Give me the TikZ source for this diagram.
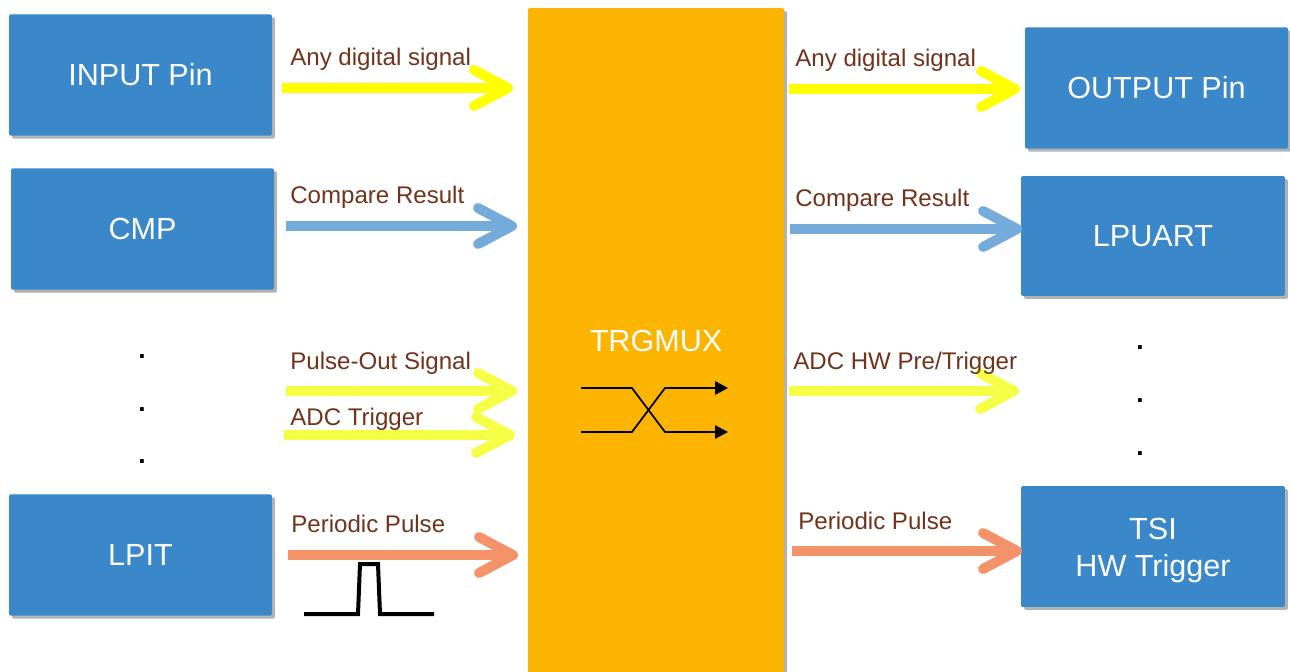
\documentclass[tikz,border=0pt]{standalone}
\usepackage{fontspec}
\setmainfont{Liberation Sans}
\usetikzlibrary{arrows.meta, shadows}

\definecolor{boxblue}{HTML}{3A87CA}
\definecolor{muxorange}{HTML}{FBB500}
\definecolor{sigyellow}{HTML}{FFFF00}
\definecolor{paleyellow}{HTML}{F5FF45}
\definecolor{sigblue}{HTML}{75ABDA}
\definecolor{sigorange}{HTML}{F4936A}
\definecolor{labelbrown}{HTML}{70331B}

\begin{document}
\begin{tikzpicture}[
            x=0.02cm, y=-0.02cm,
            softshadow/.style={
                drop shadow={shadow xshift=0.06cm, shadow yshift=-0.06cm, fill=black, opacity=0.3}
            },
            block/.style={
                draw=none, fill=boxblue, text=white, softshadow, rounded corners=0.03cm,
                minimum width=5.26cm, minimum height=2.43cm, inner sep=0pt, align=center,
                font=\fontsize{17.4}{21}\selectfont
            },
            muxblock/.style={
                draw=none, fill=muxorange, text=white, softshadow, rounded corners=0.03cm,
                minimum width=5.12cm, minimum height=13.32cm, inner sep=0pt,
                font=\fontsize{17.4}{21}\selectfont
            },
            siglabel/.style={
                anchor=base west, inner sep=0pt, text=labelbrown,
                font=\fontsize{13.7}{17}\selectfont
            },
            dotlabel/.style={
                anchor=center, inner sep=0pt, text=black,
                font=\fontsize{15}{17}\bfseries\selectfont
            },
            signal/.style={
                line width=0.2cm,
                -{Straight Barb[length=0.68cm, width=0.72cm, line width=0.2cm, round]}
            },
            muxline/.style={line width=0.035cm, -{Triangle[length=0.26cm, width=0.27cm]}}
        ]

            \useasboundingbox (0,0) rectangle (1290,672);

            % blocks
            \node[muxblock] (mux) at (656,341) {TRGMUX};
            \node[block] (input) at (140.5,75) {INPUT Pin};
            \node[block] (cmp) at (142.5,229) {CMP};
            \node[block] (lpit) at (140.5,555) {LPIT};
            \node[block] (output) at (1156.5,88) {OUTPUT Pin};
            \node[block, minimum width=5.28cm, minimum height=2.40cm] (lpuart) at (1153,236) {LPUART};
            \node[block, minimum width=5.28cm, minimum height=2.42cm] (tsi) at (1153,546.5) {\rule{0pt}{17pt}TSI\\HW Trigger};

            % signal ends
            \coordinate (inputout) at (282,88);
            \coordinate (cmpout) at (286,226);
            \coordinate (pulseout) at (286,391);
            \coordinate (adcout) at (284,435);
            \coordinate (lpitout) at (288,555);
            \coordinate (muxin1) at (513,88);
            \coordinate (muxin2) at (517,226);
            \coordinate (muxin3) at (517,391);
            \coordinate (muxin4) at (515,435);
            \coordinate (muxin5) at (518,555);
            \coordinate (muxout1) at (789,89);
            \coordinate (muxout2) at (790,229);
            \coordinate (muxout3) at (789,391);
            \coordinate (muxout4) at (792,551);
            \coordinate (outputin) at (1020,89);
            \coordinate (lpuartin) at (1022,229);
            \coordinate (adcin) at (1019,391);
            \coordinate (tsiin) at (1022,551);

            \draw[signal, sigyellow] (inputout) -- (muxin1);
            \draw[signal, sigblue] (cmpout) -- (muxin2);
            \draw[signal, paleyellow] (pulseout) -- (muxin3);
            \draw[signal, paleyellow] (adcout) -- (muxin4);
            \draw[signal, sigorange] (lpitout) -- (muxin5);
            \draw[signal, sigyellow] (muxout1) -- (outputin);
            \draw[signal, sigblue] (muxout2) -- (lpuartin);
            \draw[signal, paleyellow] (muxout3) -- (adcin);
            \draw[signal, sigorange] (muxout4) -- (tsiin);

            % labels
            \node[siglabel] (anyleft) at (290,66) {Any digital signal};
            \node[siglabel] (compareleft) at (290,203) {Compare Result};
            \node[siglabel] (pulselabel) at (290,369) {Pulse-Out Signal};
            \node[siglabel] (adclabel) at (290,425) {ADC Trigger};
            \node[siglabel] (periodicleft) at (291,532) {Periodic Pulse};
            \node[siglabel] (anyright) at (795,67) {Any digital signal};
            \node[siglabel] (compareright) at (795,207) {Compare Result};
            \node[siglabel] (adchw) at (793,369) {ADC HW Pre/Trigger};
            \node[siglabel] (periodicright) at (798,529) {Periodic Pulse};

            % dots
            \node[dotlabel] (ldot1) at (142,357) {.};
            \node[dotlabel] (ldot2) at (142,410) {.};
            \node[dotlabel] (ldot3) at (142,462) {.};
            \node[dotlabel] (rdot1) at (1140,348) {.};
            \node[dotlabel] (rdot2) at (1140,401) {.};
            \node[dotlabel] (rdot3) at (1140,454) {.};

            % crossing inside the mux
            \draw[muxline] (581,388) -- ++(51,0) -- ++(33,44) -- (728,432);
            \draw[muxline] (581,432) -- ++(51,0) -- ++(33,-44) -- (728,388);

            % pulse
            \draw[line width=0.08cm, black] (304,614) -- (358,614) -- (360,564) -- (378,564) -- (380,614) -- (434,614);
        \end{tikzpicture}
\end{document}
